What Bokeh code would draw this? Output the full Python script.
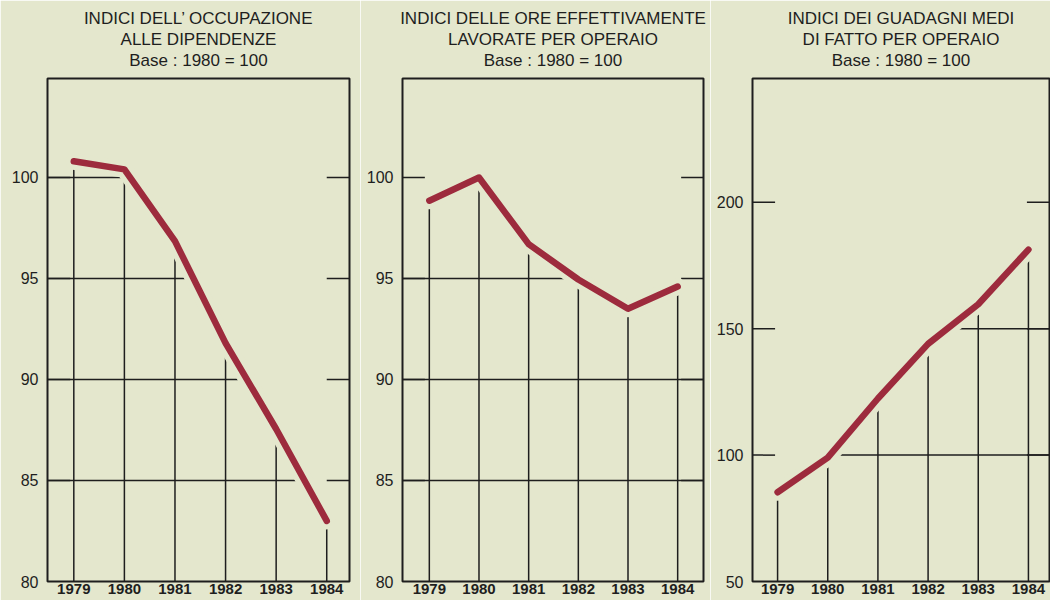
from bokeh.plotting import figure
from bokeh.layouts import row
from bokeh.models import FixedTicker, Title, ColumnDataSource
from bokeh.embed import file_html
from bokeh.resources import INLINE

# ---------------- data ----------------
years = [1979, 1980, 1981, 1982, 1983, 1984]
occupazione = [100.8, 100.4, 96.85, 91.8, 87.55, 83.0]
ore_lavorate = [98.85, 100.0, 96.7, 94.95, 93.5, 94.6]
guadagni = [85.3, 99.0, 122.4, 144.0, 159.7, 181.3]

ticks_small = [80, 85, 90, 95, 100]
ticks_large = [50, 100, 150, 200]

title_occupazione = ["INDICI DELL\u2019 OCCUPAZIONE", "ALLE DIPENDENZE", "Base : 1980 = 100"]
title_ore = ["INDICI DELLE ORE EFFETTIVAMENTE", "LAVORATE PER OPERAIO", "Base : 1980 = 100"]
title_guadagni = ["INDICI DEI GUADAGNI MEDI", "DI FATTO PER OPERAIO", "Base : 1980 = 100"]

# ---------------- style ----------------
BG = "#e4e7cd"
RED = "#9d2b3d"
INK = "#1e1e1e"
FONT = "Liberation Sans"
H = 600


def below_curve_intervals(xs, ys, level, x_lo, x_hi):
    """x-intervals where the (flat-extended) curve lies above a grid level."""
    px = [x_lo] + list(xs) + [x_hi]
    py = [ys[0]] + list(ys) + [ys[-1]]
    ivs = []
    for i in range(len(px) - 1):
        xa, xb, ya, yb = px[i], px[i + 1], py[i], py[i + 1]
        if ya > level and yb > level:
            a, b = xa, xb
        elif ya <= level and yb <= level:
            continue
        else:
            xc = xa + (level - ya) * (xb - xa) / (yb - ya)
            a, b = (xa, xc) if ya > level else (xc, xb)
        if ivs and abs(ivs[-1][1] - a) < 1e-9:
            ivs[-1][1] = b
        else:
            ivs.append([a, b])
    return ivs


def make_chart(title_lines, values, ticks, y_rng, x_rng, width, mbl, mbr):
    x_lo, x_hi = x_rng
    p = figure(width=width, height=H, x_range=x_rng, y_range=y_rng,
               output_backend="svg", toolbar_location=None, title=None,
               min_border_left=mbl, min_border_right=mbr,
               min_border_top=78, min_border_bottom=19,
               background_fill_color=BG, border_fill_color=BG)
    p.grid.visible = False
    p.outline_line_color = INK
    p.outline_line_width = 2

    # small spacer between frame and title block
    p.add_layout(Title(text=" ", text_font_size="1px", standoff=6,
                       text_color=BG), "above")
    # titles (added nearest-first)
    for line in reversed(title_lines):
        p.add_layout(Title(text=line, align="center", text_font_size="17px",
                           text_font=FONT, text_font_style="normal",
                           text_line_height=0.8,
                           text_color=INK, standoff=0, offset=0), "above")

    # axes
    p.yaxis.ticker = FixedTicker(ticks=ticks)
    p.yaxis.axis_line_color = None
    p.yaxis.major_tick_line_color = None
    p.yaxis.minor_tick_line_color = None
    p.yaxis.major_tick_out = 0
    p.yaxis.major_tick_in = 0
    p.yaxis.major_label_standoff = 9
    p.yaxis.major_label_text_font = FONT
    p.yaxis.major_label_text_font_size = "16px"
    p.yaxis.major_label_text_color = INK

    p.xaxis.ticker = FixedTicker(ticks=years)
    p.xaxis.axis_line_color = None
    p.xaxis.major_tick_line_color = None
    p.xaxis.minor_tick_line_color = None
    p.xaxis.major_tick_out = 0
    p.xaxis.major_tick_in = 0
    p.xaxis.major_label_standoff = 2
    p.xaxis.major_label_text_font = FONT
    p.xaxis.major_label_text_font_size = "15px"
    p.xaxis.major_label_text_font_style = "bold"
    p.xaxis.major_label_text_color = INK

    # grid pieces: only under the curve, plus short stubs at both edges
    stub = 0.45
    gx0, gx1, gy = [], [], []
    for lvl in ticks[1:]:
        for a, b in below_curve_intervals(years, values, lvl, x_lo, x_hi):
            gx0.append(a); gx1.append(b); gy.append(lvl)
        gx0 += [x_lo, x_hi - stub]; gx1 += [x_lo + stub, x_hi]; gy += [lvl, lvl]
    p.segment(x0=gx0, y0=gy, x1=gx1, y1=gy, line_color=INK, line_width=1.5)

    # drop lines from the base to the curve
    src = ColumnDataSource(dict(x=years, y=values, base=[y_rng[0]] * len(years)))
    p.segment(x0="x", y0="base", x1="x", y1="y", source=src,
              line_color=INK, line_width=1.5)

    # halo + curve
    p.line("x", "y", source=src, line_color=BG, line_width=17,
           line_join="round", line_cap="round")
    p.line("x", "y", source=src, line_color=RED, line_width=6.5,
           line_join="round", line_cap="round")
    return p


p1 = make_chart(title_occupazione, occupazione, ticks_small, (80, 104.9),
                (1978.48, 1984.45), 360, 47, 11)
p2 = make_chart(title_ore, ore_lavorate, ticks_small, (80, 104.9),
                (1978.46, 1984.52), 350, 42, 7)
p3 = make_chart(title_guadagni, guadagni, ticks_large, (50, 249),
                (1978.5, 1984.42), 340, 42, 1)

layout = row(p1, p2, p3)
open("out.html", "w").write(file_html(layout, INLINE))
